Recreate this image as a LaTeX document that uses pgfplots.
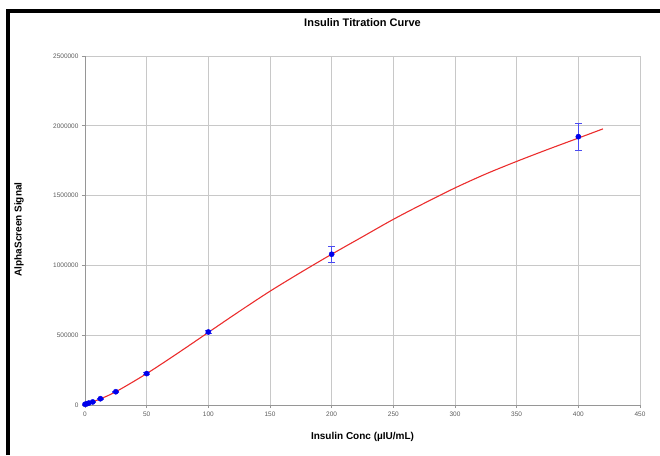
\documentclass[border=0pt]{standalone}
\usepackage{pgfplots}
\pgfplotsset{compat=1.18}
\usepackage{fontspec}
\setmainfont{Liberation Sans}
\definecolor{gridgray}{RGB}{200,200,200}
\definecolor{axisgray}{RGB}{150,150,150}
\definecolor{ticktext}{RGB}{90,90,90}
\definecolor{fitred}{RGB}{235,45,45}
\definecolor{ptblue}{RGB}{0,0,235}
\begin{document}
\begin{tikzpicture}[x=1pt,y=1pt]
\path[use as bounding box] (0,0) rectangle (660,455);
\draw[line width=4pt] (7.5,0) -- (7.5,443.5) -- (660,443.5);
\begin{axis}[
  at={(85pt,50pt)}, anchor=south west,
  scale only axis, width=555pt, height=349pt,
  xmin=0, xmax=450, ymin=0, ymax=2500000,
  xtick={0,50,...,450}, ytick={0,500000,...,2500000},
  scaled ticks=false,
  /pgf/number format/fixed, /pgf/number format/1000 sep={},
  /pgf/number format/assume math mode=true,
  ticklabel style={font=\fontsize{6.5}{7}\selectfont, text=ticktext},
  grid=major, grid style={gridgray, line width=0.9pt},
  axis x line*=bottom, axis y line*=left,
  axis line style={axisgray, line width=0.9pt, -},
  tick style={axisgray, line width=0.8pt},
  tick align=outside, major tick length=3pt,
  title={\bfseries Insulin Titration Curve},
  title style={font=\fontsize{11}{12}\selectfont, at={(axis description cs:0.5,1.0774)}, anchor=center},
  xlabel={\bfseries Insulin Conc (µIU/mL)},
  xlabel style={font=\fontsize{10}{11}\selectfont, at={(axis description cs:0.5,-0.0908)}, anchor=center},
  ylabel={\bfseries AlphaScreen Signal},
  ylabel style={font=\fontsize{10}{11}\selectfont, at={(axis description cs:-0.119,0.503)}, anchor=center},
]
\addplot[fitred, line width=1.1pt, smooth] coordinates {
  (0,5000) (10,35000) (25,95000) (50,225000) (75,370000) (100,520000)
  (125,670000) (150,815000) (175,950000) (200,1080000) (225,1205000)
  (250,1330000) (275,1445000) (300,1555000) (325,1655000) (350,1745000)
  (375,1830000) (400,1912000) (420,1978000)
};
\addplot[ptblue, only marks, mark=*, mark size=2.6pt,
  error bars/.cd, y dir=both, y explicit,
  error bar style={ptblue!70, line width=0.6pt},
  error mark options={ptblue!70, line width=0.6pt, mark size=3.5pt, rotate=90}]
  coordinates {
  (0,5000) +- (0,2000)
  (1.5625,9000) +- (0,2000)
  (3.125,14000) +- (0,2000)
  (6.25,22000) +- (0,3000)
  (12.5,45000) +- (0,3000)
  (25,95000) +- (0,4000)
  (50,225000) +- (0,6000)
  (100,523000) +- (0,10000)
  (200,1080000) +- (0,55000)
  (400,1922000) +- (0,95000)
};
\end{axis}
\end{tikzpicture}
\end{document}
